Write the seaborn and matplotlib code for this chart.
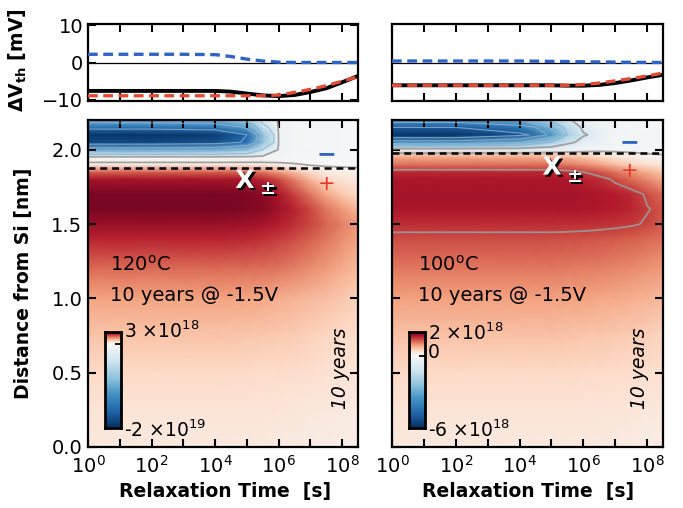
import numpy as np
import matplotlib
matplotlib.use("Agg")
import matplotlib.pyplot as plt
import matplotlib.patheffects as pe
from matplotlib.colors import TwoSlopeNorm
from matplotlib.ticker import FixedLocator, FuncFormatter, NullLocator
import seaborn as sns

# ---------------- data ----------------
# top panels: threshold-voltage shift [mV] vs log10(relaxation time / s)
logt_top = [0, 1, 2, 3, 4, 4.5, 5, 5.5, 6, 6.5, 7, 7.5, 8, 8.5]
dvth_total_120 = [-7.6, -7.6, -7.6, -7.6, -7.6, -7.8, -8.3, -8.8, -9.0, -8.7, -7.9, -6.9, -5.3, -3.6]
dvth_pos_120 = [-8.9, -8.9, -8.9, -8.9, -8.9, -8.9, -8.9, -8.9, -8.7, -8.0, -7.2, -6.2, -5.0, -3.8]
dvth_neg_120 = [2.2, 2.2, 2.2, 2.2, 2.1, 1.6, 0.9, 0.4, 0.1, 0.0, 0.0, 0.0, 0.0, 0.0]
dvth_total_100 = [-6.1, -6.1, -6.1, -6.1, -6.1, -6.1, -6.1, -6.2, -6.2, -6.0, -5.5, -4.8, -4.0, -3.3]
dvth_pos_100 = [-6.1, -6.1, -6.1, -6.1, -6.1, -6.1, -6.1, -6.1, -5.9, -5.5, -4.9, -4.3, -3.6, -2.8]
dvth_neg_100 = [0.4, 0.4, 0.4, 0.4, 0.4, 0.35, 0.3, 0.25, 0.2, 0.15, 0.1, 0.05, 0.02, 0.0]

# bottom panels: trapped charge density [1e18 cm^-3] on a (distance x log10 time) grid
logt_grid = [0, 2, 4, 5, 5.5, 6, 6.5, 7, 7.5, 8, 8.5]
dist_grid = [0.0, 0.25, 0.5, 0.75, 1.0, 1.2, 1.4, 1.5, 1.6, 1.7, 1.8, 1.85, 1.9, 1.95,
             2.0, 2.05, 2.1, 2.15, 2.2]
charge_120 = [
    [0.30, 0.30, 0.30, 0.30, 0.30, 0.28, 0.26, 0.25, 0.24, 0.22, 0.20],
    [0.40, 0.40, 0.40, 0.40, 0.40, 0.38, 0.36, 0.34, 0.32, 0.30, 0.28],
    [0.60, 0.60, 0.60, 0.58, 0.56, 0.54, 0.52, 0.50, 0.46, 0.42, 0.38],
    [0.85, 0.85, 0.85, 0.83, 0.80, 0.78, 0.75, 0.70, 0.64, 0.58, 0.52],
    [1.20, 1.20, 1.20, 1.18, 1.15, 1.10, 1.05, 0.98, 0.90, 0.80, 0.70],
    [1.70, 1.70, 1.70, 1.68, 1.65, 1.60, 1.50, 1.40, 1.28, 1.12, 0.95],
    [2.30, 2.30, 2.30, 2.25, 2.20, 2.10, 1.95, 1.80, 1.60, 1.40, 1.20],
    [2.60, 2.60, 2.60, 2.55, 2.50, 2.35, 2.20, 2.00, 1.75, 1.50, 1.30],
    [2.85, 2.85, 2.85, 2.80, 2.72, 2.55, 2.30, 2.00, 1.60, 1.30, 1.00],
    [2.85, 2.85, 2.85, 2.80, 2.70, 2.45, 2.05, 1.60, 1.15, 0.80, 0.60],
    [2.50, 2.50, 2.50, 2.45, 2.30, 2.00, 1.50, 1.00, 0.60, 0.40, 0.30],
    [1.80, 1.80, 1.80, 1.75, 1.60, 1.30, 0.90, 0.55, 0.30, 0.20, 0.15],
    [0.25, 0.25, 0.25, 0.25, 0.22, 0.15, 0.05, -0.05, -0.10, -0.10, -0.10],
    [-0.60, -0.60, -0.60, -0.55, -0.50, -0.40, -0.30, -0.30, -0.30, -0.30, -0.25],
    [-10.0, -10.0, -9.5, -8.0, -4.0, -0.80, -0.50, -0.40, -0.35, -0.30, -0.30],
    [-18.0, -18.0, -17.5, -15.0, -8.0, -1.0, -0.60, -0.45, -0.35, -0.30, -0.30],
    [-19.5, -19.5, -19.0, -16.0, -8.0, -0.9, -0.60, -0.45, -0.35, -0.30, -0.30],
    [-15.0, -15.0, -14.5, -11.0, -5.0, -0.8, -0.55, -0.40, -0.35, -0.30, -0.30],
    [-10.0, -10.0, -9.5, -7.0, -3.0, -0.7, -0.50, -0.40, -0.30, -0.30, -0.30],
]
charge_100 = [
    [0.20, 0.20, 0.20, 0.20, 0.20, 0.20, 0.19, 0.18, 0.17, 0.16, 0.15],
    [0.28, 0.28, 0.28, 0.28, 0.28, 0.27, 0.26, 0.25, 0.24, 0.23, 0.22],
    [0.40, 0.40, 0.40, 0.40, 0.40, 0.39, 0.38, 0.37, 0.36, 0.34, 0.32],
    [0.58, 0.58, 0.58, 0.58, 0.57, 0.56, 0.55, 0.53, 0.51, 0.48, 0.45],
    [0.82, 0.82, 0.82, 0.82, 0.81, 0.80, 0.78, 0.76, 0.73, 0.70, 0.65],
    [1.05, 1.05, 1.05, 1.05, 1.04, 1.03, 1.01, 0.98, 0.95, 0.90, 0.85],
    [1.30, 1.30, 1.30, 1.30, 1.29, 1.28, 1.26, 1.23, 1.20, 1.15, 1.08],
    [1.48, 1.48, 1.48, 1.48, 1.48, 1.47, 1.46, 1.44, 1.41, 1.34, 1.22],
    [1.63, 1.63, 1.63, 1.63, 1.63, 1.62, 1.60, 1.57, 1.52, 1.40, 1.24],
    [1.67, 1.67, 1.67, 1.67, 1.67, 1.65, 1.63, 1.58, 1.50, 1.32, 1.14],
    [1.63, 1.63, 1.63, 1.63, 1.61, 1.56, 1.47, 1.32, 1.14, 0.96, 0.78],
    [1.50, 1.50, 1.50, 1.50, 1.46, 1.38, 1.27, 1.09, 0.91, 0.73, 0.55],
    [1.10, 1.10, 1.10, 1.10, 1.05, 0.96, 0.82, 0.64, 0.46, 0.32, 0.23],
    [0.75, 0.75, 0.75, 0.70, 0.65, 0.55, 0.42, 0.28, 0.18, 0.09, 0.05],
    [-0.60, -0.60, -0.55, -0.40, -0.30, -0.20, -0.12, -0.10, -0.10, -0.10, -0.10],
    [-3.5, -3.5, -3.0, -2.0, -1.2, -0.6, -0.30, -0.15, -0.10, -0.10, -0.10],
    [-5.9, -5.9, -5.2, -3.5, -2.0, -1.1, -0.50, -0.20, -0.15, -0.10, -0.10],
    [-5.0, -5.0, -4.4, -2.8, -1.6, -0.8, -0.35, -0.20, -0.10, -0.10, -0.10],
    [-3.5, -3.5, -3.0, -1.8, -1.1, -0.5, -0.25, -0.15, -0.10, -0.10, -0.10],
]
cbar_range_120 = (-20.0, 3.0)
cbar_range_100 = (-6.0, 2.0)
interface_120 = 1.88
interface_100 = 1.98
xtick_exponents = [0, 1, 2, 3, 4, 5, 6, 7, 8]

# ---------------- style ----------------
sns.set_style("ticks")
plt.rcParams['font.family'] = ['DejaVu Sans']
plt.rcParams['mathtext.default'] = 'regular'
plt.rcParams['lines.scale_dashes'] = False
plt.rcParams['xtick.labelsize'] = 14
plt.rcParams['ytick.labelsize'] = 14
for k in ['text.color', 'axes.labelcolor', 'xtick.color', 'ytick.color', 'axes.edgecolor']:
    plt.rcParams[k] = 'black'

fig = plt.figure(figsize=(6.83, 5.08), dpi=100)
fig.patch.set_facecolor('white')
W, H = 683.0, 508.0

def fax(x0, y0, x1, y1):
    return fig.add_axes([x0 / W, 1 - y1 / H, (x1 - x0) / W, (y1 - y0) / H])

ax_tl = fax(88, 24, 358, 101)
ax_tr = fax(392, 24, 663, 101)
ax_bl = fax(88, 120, 358, 447)
ax_br = fax(392, 120, 663, 447)

XMIN, XMAX = 1.0, 10 ** 8.5

def style_axis(ax):
    ax.set_xscale('log')
    ax.set_xlim(XMIN, XMAX)
    for s in ax.spines.values():
        s.set_linewidth(1.6)
        s.set_color('black')
        s.set_visible(True)
    ax.tick_params(which='both', direction='in', length=6, width=1.5,
                   top=True, bottom=True, left=True, right=True, colors='black')
    ax.xaxis.set_major_locator(FixedLocator([10.0 ** e for e in xtick_exponents]))
    ax.xaxis.set_minor_locator(NullLocator())

def logfmt(v, pos):
    e = int(round(np.log10(v)))
    return r'$10^{%d}$' % e if e % 2 == 0 else ''

BLUE = '#2f63c4'
RED = '#e24a33'

def draw_top(ax, total, pos, neg, show_y):
    t = 10.0 ** np.array(logt_top)
    style_axis(ax)
    ax.axhline(0, color='black', lw=0.9, zorder=1)
    sns.lineplot(x=t, y=neg, ax=ax, color=BLUE, lw=2.4, linestyle='--', zorder=3)
    ax.lines[-1].set_dashes([7, 4])
    sns.lineplot(x=t, y=pos, ax=ax, color=RED, lw=2.4, linestyle='--', zorder=3)
    ax.lines[-1].set_dashes([7, 4])
    sns.lineplot(x=t, y=total, ax=ax, color='black', lw=2.8, zorder=2)
    ax.set_ylim(-10.3, 10.3)
    ax.set_yticks([-10, 0, 10])
    ax.set_xticklabels([])
    if not show_y:
        ax.set_yticklabels([])
        ax.tick_params(axis='y', left=False, right=False)
    ax.set_xlabel('')
    ax.set_ylabel('')

draw_top(ax_tl, dvth_total_120, dvth_pos_120, dvth_neg_120, True)
draw_top(ax_tr, dvth_total_100, dvth_pos_100, dvth_neg_100, False)

def draw_map(ax, field, crange, interface, neg_levels, pos_levels, temp_label,
             cb_labels, show_y):
    style_axis(ax)
    T, D = np.meshgrid(10.0 ** np.array(logt_grid), np.array(dist_grid))
    C = np.array(field)
    vmin, vmax = crange
    norm = TwoSlopeNorm(vcenter=0.0, vmin=vmin, vmax=vmax)
    ax.pcolormesh(T, D, C, shading='gouraud', cmap='RdBu_r', norm=norm,
                  rasterized=True, zorder=0)
    ax.contour(T, D, C, levels=neg_levels, colors='#8fb0d0', linewidths=0.8,
               linestyles='solid', alpha=0.8, zorder=1)
    ax.contour(T, D, C, levels=[-1.0, 0.0] + pos_levels, colors='#9a9a9a',
               linewidths=1.3, linestyles='solid', alpha=0.9, zorder=1)
    ax.axhline(interface, color='black', ls='--', lw=1.8, zorder=2)
    ax.lines[-1].set_dashes([5, 3.5])
    ax.set_ylim(0, 2.2)
    ax.set_yticks([0.0, 0.5, 1.0, 1.5, 2.0])
    ax.xaxis.set_major_formatter(FuncFormatter(logfmt))
    if show_y:
        ax.set_yticklabels(['0.0', '0.5', '1.0', '1.5', '2.0'])
    else:
        ax.set_yticklabels([])
    ax.tick_params(axis='x', pad=6)
    ax.tick_params(axis='y', pad=4)

    # inset colour bar
    cax = ax.inset_axes([0.063, 0.058, 0.059, 0.294])
    grad = np.linspace(vmin, vmax, 256).reshape(-1, 1)
    cax.imshow(grad, aspect='auto', cmap='RdBu_r', norm=norm, origin='lower',
               extent=[0, 1, vmin, vmax])
    cax.set_xticks([])
    cax.yaxis.tick_right()
    cax.set_yticks([0.0])
    cax.set_yticklabels([])
    cax.tick_params(axis='y', direction='in', length=4, width=1.3, right=True, left=False)
    for s in cax.spines.values():
        s.set_linewidth(2.0)
        s.set_color('black')
    for (yy, txt) in cb_labels:
        ax.text(0.133, yy, txt, transform=ax.transAxes, fontsize=13.5,
                ha='left', va='center')

    # condition text
    ax.text(0.08 if show_y else 0.095, 0.557, temp_label, transform=ax.transAxes,
            fontsize=14, ha='left', va='center')
    ax.text(0.08 if show_y else 0.095, 0.462, '10 years @ -1.5V', transform=ax.transAxes,
            fontsize=14, ha='left', va='center')
    ax.text(0.935 if show_y else 0.915, 0.24, '10 years', transform=ax.transAxes,
            fontsize=13.5, rotation=90, style='italic', ha='center', va='center')

draw_map(ax_bl, charge_120, cbar_range_120, interface_120,
         [-16.0, -12.0, -8.0, -4.0], [],
         r'120$^{\rm o}$C',
         [(0.355, r'3 $\times$10$^{18}$'), (0.052, r'-2 $\times$10$^{19}$')], True)
draw_map(ax_br, charge_100, cbar_range_100, interface_100,
         [-5.0, -4.0, -3.0, -2.0], [1.38],
         r'100$^{\rm o}$C',
         [(0.349, r'2 $\times$10$^{18}$'), (0.289, '0'), (0.052, r'-6 $\times$10$^{18}$')], False)

# markers for trapped-charge types
shadow = [pe.SimplePatchShadow(offset=(1.6, -1.6), shadow_rgbFace='black', alpha=1.0), pe.Normal()]
for ax, (tx, ty), (px, py), (mx, my_minus, my_plus) in [
        (ax_bl, (4.94, 1.79), (5.68, 1.74), (7.5, 1.97, 1.77)),
        (ax_br, (5.02, 1.88), (5.74, 1.82), (7.46, 2.05, 1.86))]:
    ax.text(10 ** tx, ty, 'X', color='white', fontsize=18, fontweight='bold',
            ha='center', va='center', path_effects=shadow, zorder=5)
    ax.text(10 ** px, py, '±', color='white', fontsize=14, fontweight='bold',
            ha='center', va='center', path_effects=shadow, zorder=5)
    ax.text(10 ** mx, my_minus, '−', color=BLUE, fontsize=17, fontweight='heavy',
            ha='center', va='center', zorder=5)
    ax.text(10 ** mx, my_plus, '+', color='#e8352a', fontsize=15,
            ha='center', va='center', zorder=5)

# axis labels
fig.text(18 / W, 1 - 60 / H, r'$\Delta$V$_{\mathbf{th}}$ [mV]', rotation=90,
         fontsize=13.5, fontweight='bold', ha='center', va='center')
fig.text(24 / W, 1 - 283 / H, 'Distance from Si [nm]', rotation=90,
         fontsize=13.5, fontweight='bold', ha='center', va='center')
fig.text(225 / W, 1 - 492 / H, 'Relaxation Time  [s]', fontsize=13.5,
         fontweight='bold', ha='center', va='center')
fig.text(528 / W, 1 - 492 / H, 'Relaxation Time  [s]', fontsize=13.5,
         fontweight='bold', ha='center', va='center')

fig.savefig('out.png', dpi=100, facecolor='white')
